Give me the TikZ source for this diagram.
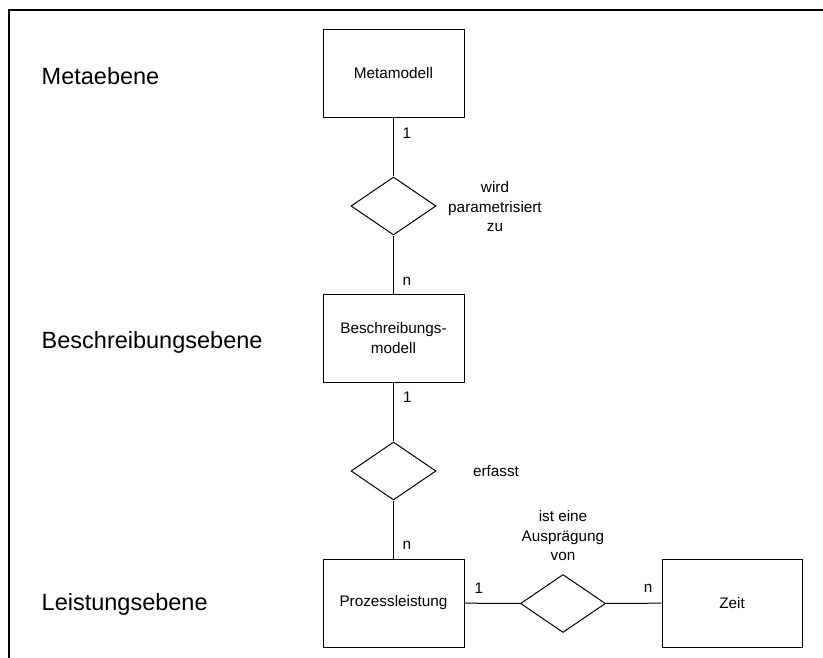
\documentclass[tikz,border=0pt]{standalone}
\usepackage{fontspec}
\setmainfont{Liberation Sans}
\usetikzlibrary{shapes.geometric}
\newcommand\diagsmall{\fontsize{15.3}{19.5}\selectfont}
\newcommand\diaglarge{\fontsize{23.5}{27}\selectfont}
\begin{document}
\begin{tikzpicture}[x=1pt,y=-1pt,
  entity/.style={draw, line width=1pt, minimum width=141pt, minimum height=88pt,
    inner sep=0pt, align=center, font=\diagsmall},
  relation/.style={draw, diamond, line width=1pt, aspect=1.47,
    minimum width=85pt, minimum height=58pt, inner sep=0pt},
  reltext/.style={align=center, font=\diagsmall, inner sep=0pt},
  card/.style={font=\diagsmall, inner sep=0pt},
  level/.style={anchor=base west, font=\diaglarge, inner sep=0pt},
  conn/.style={line width=1pt}
]
\useasboundingbox (0,0) rectangle (823,658);

% open frame: top and left edges only
\draw[line width=2pt] (9,658) -- (9,10) -- (823,10);

% level captions
\node[level] (lmeta) at (41.5,85) {Metaebene};
\node[level] (lbeschr) at (41.5,348) {Beschreibungsebene};
\node[level] (lleist) at (41.5,610) {Leistungsebene};

% entities
\node[entity] (meta) at (393.5,73.5) {Metamodell};
\node[entity] (beschr) at (393.5,338) {Beschreibungs-\\modell};
\node[entity] (proz) at (393.5,603) {Prozessleistung};
\node[entity, minimum width=140pt] (zeit) at (732,603) {Zeit};

% relationships
\node[relation] (r1) at (393.5,206) {};
\node[relation] (r2) at (393.5,471) {};
\node[relation] (r3) at (563,603.5) {};

\node[reltext] (t1) at (495,207) {wird\\parametrisiert\\zu};
\node[reltext] (t2) at (496,471) {erfasst};
\node[reltext] (t3) at (563,536) {ist eine\\Ausprägung\\von};

% connectors
\draw[conn] (meta) -- (r1);
\draw[conn] (r1) -- (beschr);
\draw[conn] (beschr) -- (r2);
\draw[conn] (r2) -- (proz);
\draw[conn] (proz) -- (r3);
\draw[conn] (r3) -- (zeit);

% cardinalities
\node[card] (c1) at (407,133) {1};
\node[card] (c2) at (407,281) {n};
\node[card] (c3) at (407.5,397) {1};
\node[card] (c4) at (407,545) {n};
\node[card] (c5) at (479,588) {1};
\node[card] (c6) at (648,588) {n};
\end{tikzpicture}
\end{document}
